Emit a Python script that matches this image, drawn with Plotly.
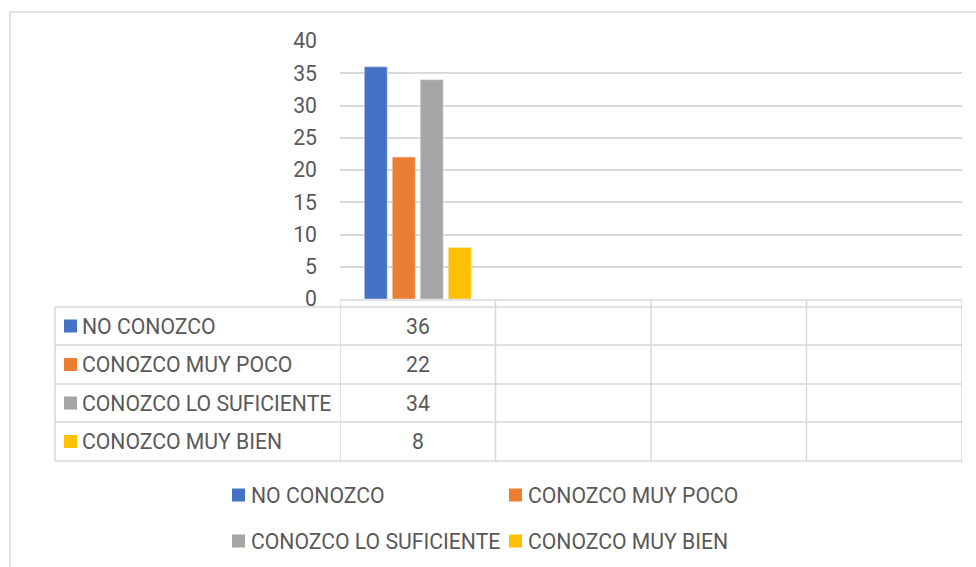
import plotly.graph_objects as go

# chart data
categories = ["Serie 1", "Serie 2", "Serie 3", "Serie 4"]
series_names = ["NO CONOZCO", "CONOZCO MUY POCO", "CONOZCO LO SUFICIENTE", "CONOZCO MUY BIEN"]
no_conozco = [36, None, None, None]
conozco_muy_poco = [22, None, None, None]
conozco_lo_suficiente = [34, None, None, None]
conozco_muy_bien = [8, None, None, None]
y_ticks = [0, 5, 10, 15, 20, 25, 30, 35, 40]

series_values = [no_conozco, conozco_muy_poco, conozco_lo_suficiente, conozco_muy_bien]
colors = ["#4472C4", "#ED7D31", "#A5A5A5", "#FFC000"]

W, H = 976, 567
L, R, T, B = 340, 14, 41, 268
FONT = "Roboto"
TEXT = "#595959"
LINE = "#d9d9d9"
FS = 21.2


def fx(px):
    return (px - L) / (W - L - R)


def fy(py):
    return (H - B - py) / (H - T - B)


fig = go.Figure()
for i, (name, values) in enumerate(zip(series_names, series_values)):
    fig.add_trace(
        go.Bar(x=categories, y=values, name=name, marker_color=colors[i], showlegend=False)
    )

shapes = []
annotations = []


def label(x, y, text, xref="paper", anchor="left"):
    annotations.append(dict(x=x, y=y, xref=xref, yref="paper", text=text, showarrow=False,
                            xanchor=anchor, yanchor="middle",
                            font=dict(family=FONT, size=FS, color=TEXT)))


def key(x, yc, color):
    shapes.append(dict(type="rect", xref="paper", yref="paper", x0=fx(x), x1=fx(x + 13),
                       y0=fy(yc - 6.5), y1=fy(yc + 6.5), fillcolor=color, line_width=0))


# outer chart frame
shapes.append(dict(type="rect", xref="paper", yref="paper", x0=fx(10), x1=fx(990),
                   y0=fy(12), y1=fy(590), line=dict(color=LINE, width=1.5)))

# data table grid
row_lines = [307, 345, 384, 422, 461]
shapes.append(dict(type="line", xref="paper", yref="paper", x0=fx(340), x1=fx(962),
                   y0=fy(300), y1=fy(300), line=dict(color=LINE, width=1.5)))
for yl in row_lines:
    shapes.append(dict(type="line", xref="paper", yref="paper", x0=fx(55), x1=fx(962),
                       y0=fy(yl), y1=fy(yl), line=dict(color=LINE, width=1.5)))
shapes.append(dict(type="line", xref="paper", yref="paper", x0=fx(55), x1=fx(55),
                   y0=fy(307), y1=fy(461), line=dict(color=LINE, width=1.5)))
for k in range(len(categories) + 1):
    shapes.append(dict(type="line", xref="x", yref="paper", x0=k - 0.5, x1=k - 0.5,
                       y0=fy(300), y1=fy(461), line=dict(color=LINE, width=1.5)))

for i, (name, values) in enumerate(zip(series_names, series_values)):
    yc = (row_lines[i] + row_lines[i + 1]) / 2
    key(64, yc, colors[i])
    label(fx(80), fy(yc), name)
    for j, v in enumerate(values):
        if v is not None:
            label(j, fy(yc), str(v), xref="x", anchor="center")

# legend below the table
legend_pos = [(232, 495), (509, 495), (232, 541), (509, 541)]
for (lx, ly), name, color in zip(legend_pos, series_names, colors):
    key(lx, ly, color)
    label(fx(lx + 17), fy(ly), name)

fig.update_layout(
    width=W,
    height=H,
    margin=dict(l=L, r=R, t=T, b=B),
    paper_bgcolor="white",
    plot_bgcolor="white",
    barmode="group",
    bargap=0.28,
    bargroupgap=0.18,
    font=dict(family=FONT, size=FS, color=TEXT),
    shapes=shapes,
    annotations=annotations,
)
fig.update_xaxes(type="category", range=[-0.5, 3.5], showticklabels=False,
                 showgrid=False, zeroline=False, showline=False)
fig.update_yaxes(range=[0, 40], tickvals=y_ticks, showgrid=True, gridcolor=LINE,
                 gridwidth=1.5, zeroline=False, showline=False, ticklabelstandoff=22,
                 tickfont=dict(family=FONT, size=FS, color=TEXT))

fig.write_html("out.html", config={"displayModeBar": False},
               post_script="document.body.style.margin='0';")
